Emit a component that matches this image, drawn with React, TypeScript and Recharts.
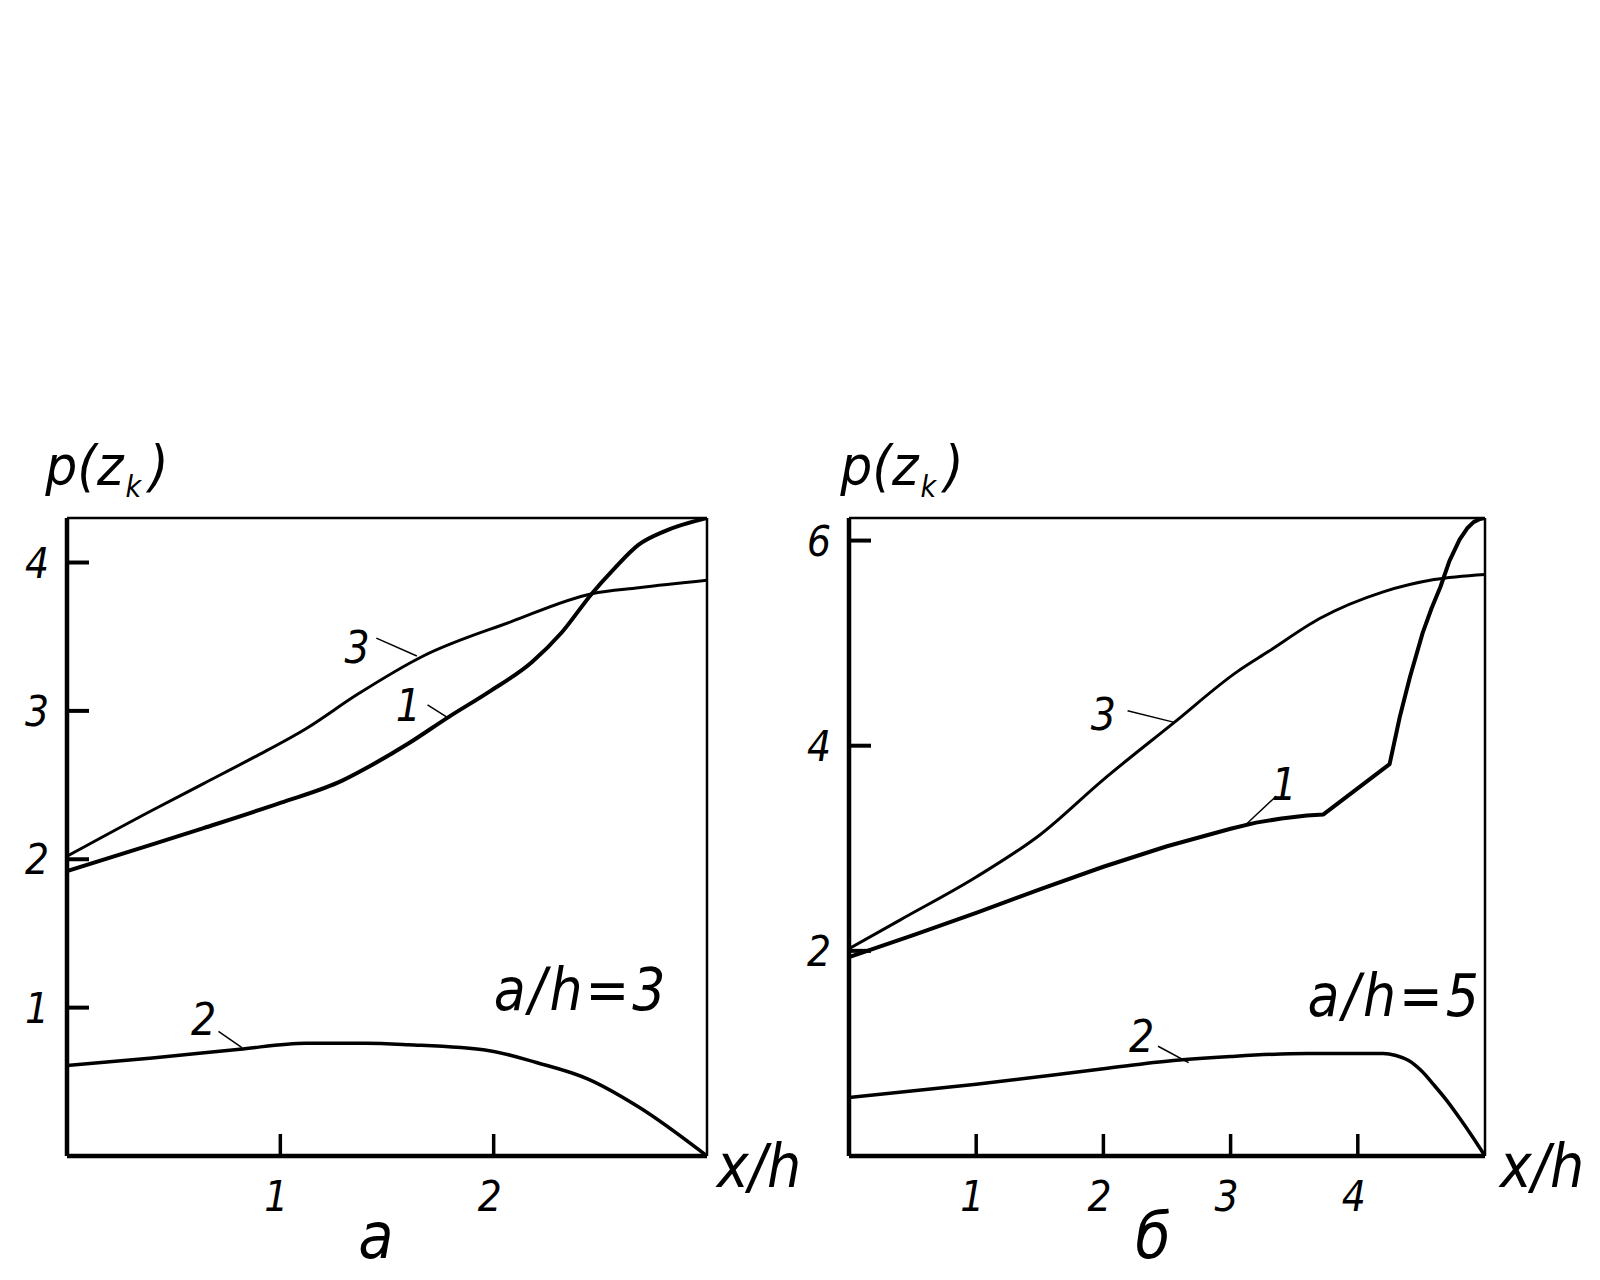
import React from 'react';
import { LineChart, Line, XAxis, YAxis, ReferenceLine, ReferenceDot } from 'recharts';

const FONT = '"Liberation Sans Narrow", "DejaVu Sans Condensed", "Liberation Sans", sans-serif';

// ---------- Panel а (a/h = 3) ----------
const aXDomain = [0, 3];
const aYDomain = [0, 4.3];
const aXTicks = [1, 2];
const aYTicks = [1, 2, 3, 4];

const aCurve1X = [0, 0.4, 0.64, 1.0, 1.29, 1.41, 1.6, 1.79, 1.98, 2.18, 2.32, 2.46, 2.56, 2.68, 2.8, 3.0];
const aCurve1Y = [1.92, 2.1, 2.21, 2.38, 2.53, 2.62, 2.78, 2.96, 3.13, 3.33, 3.53, 3.79, 3.95, 4.12, 4.21, 4.3];

const aCurve2X = [0, 0.4, 0.81, 1.12, 1.4, 1.6, 1.98, 2.2, 2.44, 2.68, 3.0];
const aCurve2Y = [0.61, 0.66, 0.72, 0.76, 0.76, 0.75, 0.71, 0.63, 0.52, 0.33, 0];

const aCurve3X = [0, 0.4, 0.64, 0.88, 1.12, 1.36, 1.67, 2.08, 2.46, 2.68, 3.0];
const aCurve3Y = [2.02, 2.33, 2.51, 2.69, 2.88, 3.11, 3.37, 3.6, 3.79, 3.83, 3.88];

// ---------- Panel б (a/h = 5) ----------
const bXDomain = [0, 5];
const bYDomain = [0, 6.22];
const bXTicks = [1, 2, 3, 4];
const bYTicks = [2, 4, 6];

const bCurve1X = [0, 0.5, 1.0, 1.5, 2.0, 2.5, 3.0, 3.2, 3.4, 3.6, 3.73, 4.25, 4.33, 4.41, 4.51, 4.58, 4.65, 4.72, 4.8, 4.86, 4.91, 4.96, 5.0];
const bCurve1Y = [1.94, 2.15, 2.37, 2.6, 2.82, 3.02, 3.19, 3.25, 3.29, 3.32, 3.33, 3.82, 4.28, 4.67, 5.1, 5.34, 5.55, 5.8, 6.01, 6.12, 6.18, 6.21, 6.22];

const bCurve2X = [0, 1.0, 2.0, 2.55, 3.0, 3.6, 4.2, 4.3, 4.4, 4.5, 4.6, 4.7, 4.8, 4.9, 5.0];
const bCurve2Y = [0.57, 0.7, 0.85, 0.93, 0.97, 1.0, 1.0, 0.98, 0.93, 0.83, 0.69, 0.54, 0.37, 0.19, 0];

const bCurve3X = [0, 0.4, 1.0, 1.5, 2.0, 2.55, 3.05, 3.3, 3.7, 4.2, 4.6, 5.0];
const bCurve3Y = [2.02, 2.3, 2.72, 3.13, 3.67, 4.22, 4.72, 4.92, 5.24, 5.5, 5.62, 5.67];

const zip = (xs: number[], ys: number[]) => xs.map((x, i) => ({ x, y: ys[i] }));

const YTick = (props: any) => {
  const { x, y, payload } = props;
  return (
    <g>
      <line x1={x} y1={y} x2={x + 22} y2={y} stroke="#000" strokeWidth={4} />
      <text x={x - 18} y={y} dy="0.36em" textAnchor="end" fontSize={42} fontStyle="italic" fontFamily={FONT} fill="#000">
        {payload.value}
      </text>
    </g>
  );
};

const XTick = (props: any) => {
  const { x, y, payload } = props;
  return (
    <g>
      <line x1={x} y1={y} x2={x} y2={y - 22} stroke="#000" strokeWidth={3.5} />
      <text x={x - 4} y={y + 40} dy="0.36em" textAnchor="middle" fontSize={42} fontStyle="italic" fontFamily={FONT} fill="#000">
        {payload.value}
      </text>
    </g>
  );
};

const textShape = (txt: string, size: number, spacing = 0) => (p: any) => (
  <text
    x={p.cx}
    y={p.cy}
    dy="0.36em"
    textAnchor="middle"
    fontSize={size}
    fontStyle="italic"
    fontFamily={FONT}
    letterSpacing={spacing}
    fill="#000"
  >
    {txt}
  </text>
);

type Leader = { tx: number; ty: number; x1: number; y1: number; x2: number; y2: number; label: string };

const aLeaders: Leader[] = [
  { label: '3', tx: 1.36, ty: 3.43, x1: 1.45, y1: 3.49, x2: 1.64, y2: 3.37 },
  { label: '1', tx: 1.6, ty: 3.04, x1: 1.69, y1: 3.04, x2: 1.79, y2: 2.95 },
  { label: '2', tx: 0.64, ty: 0.92, x1: 0.71, y1: 0.84, x2: 0.82, y2: 0.73 },
];
const bLeaders: Leader[] = [
  { label: '3', tx: 2.0, ty: 4.31, x1: 2.19, y1: 4.34, x2: 2.55, y2: 4.23 },
  { label: '1', tx: 3.42, ty: 3.63, x1: 3.36, y1: 3.51, x2: 3.11, y2: 3.22 },
  { label: '2', tx: 2.3, ty: 1.17, x1: 2.43, y1: 1.07, x2: 2.67, y2: 0.91 },
];

type PanelProps = {
  left: number;
  width: number;
  margin: { top: number; right: number; bottom: number; left: number };
  xDomain: number[];
  yDomain: number[];
  xTicks: number[];
  yTicks: number[];
  c1: { x: number; y: number }[];
  c2: { x: number; y: number }[];
  c3: { x: number; y: number }[];
  c1Type: 'monotone' | 'linear';
  leaders: Leader[];
  note: string;
  noteX: number;
  noteY: number;
};

const Panel = (p: PanelProps) => (
  <div style={{ position: 'absolute', left: p.left, top: 0 }}>
    <LineChart width={p.width} height={1280} margin={p.margin}>
      <XAxis
        type="number"
        dataKey="x"
        domain={p.xDomain}
        ticks={p.xTicks}
        allowDataOverflow
        height={50}
        tickSize={0}
        tickMargin={0}
        tickLine={false}
        tick={<XTick />}
        axisLine={{ stroke: '#000', strokeWidth: 4.5 }}
      />
      <YAxis
        type="number"
        dataKey="y"
        domain={p.yDomain}
        ticks={p.yTicks}
        allowDataOverflow
        width={50}
        tickSize={0}
        tickMargin={0}
        tickLine={false}
        tick={<YTick />}
        axisLine={{ stroke: '#000', strokeWidth: 4.5 }}
      />
      <ReferenceLine y={p.yDomain[1]} stroke="#000" strokeWidth={2.5} />
      <ReferenceLine x={p.xDomain[1]} stroke="#000" strokeWidth={2.5} />
      <Line data={p.c3} dataKey="y" type="monotone" stroke="#000" strokeWidth={3} dot={false} isAnimationActive={false} />
      <Line data={p.c1} dataKey="y" type={p.c1Type} stroke="#000" strokeWidth={4} strokeLinejoin="round" dot={false} isAnimationActive={false} />
      <Line data={p.c2} dataKey="y" type="monotone" stroke="#000" strokeWidth={3.5} dot={false} isAnimationActive={false} />
      {p.leaders.map((l) => (
        <ReferenceLine
          key={'s' + l.label}
          segment={[{ x: l.x1, y: l.y1 }, { x: l.x2, y: l.y2 }]}
          stroke="#000"
          strokeWidth={1.5}
        />
      ))}
      {p.leaders.map((l) => (
        <ReferenceDot key={'t' + l.label} x={l.tx} y={l.ty} r={1} shape={textShape(l.label, 44)} />
      ))}
      <ReferenceDot x={p.noteX} y={p.noteY} r={1} shape={textShape(p.note, 58, 3)} />
    </LineChart>
  </div>
);

const txt: React.CSSProperties = {
  position: 'absolute',
  fontFamily: FONT,
  fontStyle: 'italic',
  lineHeight: 1.2,
  color: '#000',
  whiteSpace: 'nowrap',
  transform: 'translate(-50%, -50%)',
};

const PLabel = ({ cx }: { cx: number }) => (
  <div style={{ ...txt, left: cx, top: 466, fontSize: 56 }}>
    p(z<span style={{ fontSize: 30, position: 'relative', top: 12, marginLeft: 2, marginRight: 8 }}>k</span>)
  </div>
);

export default function App() {
  return (
    <div style={{ position: 'absolute', left: 0, top: 0, width: 1600, height: 1280, background: '#fff' }}>
      <Panel
        left={0}
        width={760}
        margin={{ top: 518, right: 53, bottom: 74, left: 17 }}
        xDomain={aXDomain}
        yDomain={aYDomain}
        xTicks={aXTicks}
        yTicks={aYTicks}
        c1={zip(aCurve1X, aCurve1Y)}
        c2={zip(aCurve2X, aCurve2Y)}
        c3={zip(aCurve3X, aCurve3Y)}
        c1Type="monotone"
        leaders={aLeaders}
        note="a/h=3"
        noteX={2.41}
        noteY={1.125}
      />
      <Panel
        left={780}
        width={800}
        margin={{ top: 518, right: 95, bottom: 74, left: 19 }}
        xDomain={bXDomain}
        yDomain={bYDomain}
        xTicks={bXTicks}
        yTicks={bYTicks}
        c1={zip(bCurve1X, bCurve1Y)}
        c2={zip(bCurve2X, bCurve2Y)}
        c3={zip(bCurve3X, bCurve3Y)}
        c1Type="linear"
        leaders={bLeaders}
        note="a/h=5"
        noteX={4.29}
        noteY={1.57}
      />
      <PLabel cx={107} />
      <PLabel cx={902} />
      <div style={{ ...txt, left: 759, top: 1166, fontSize: 60 }}>x/h</div>
      <div style={{ ...txt, left: 1542, top: 1166, fontSize: 60 }}>x/h</div>
      <div style={{ ...txt, left: 376, top: 1236, fontSize: 64 }}>а</div>
      <div style={{ ...txt, left: 1153, top: 1236, fontSize: 64 }}>б</div>
    </div>
  );
}
